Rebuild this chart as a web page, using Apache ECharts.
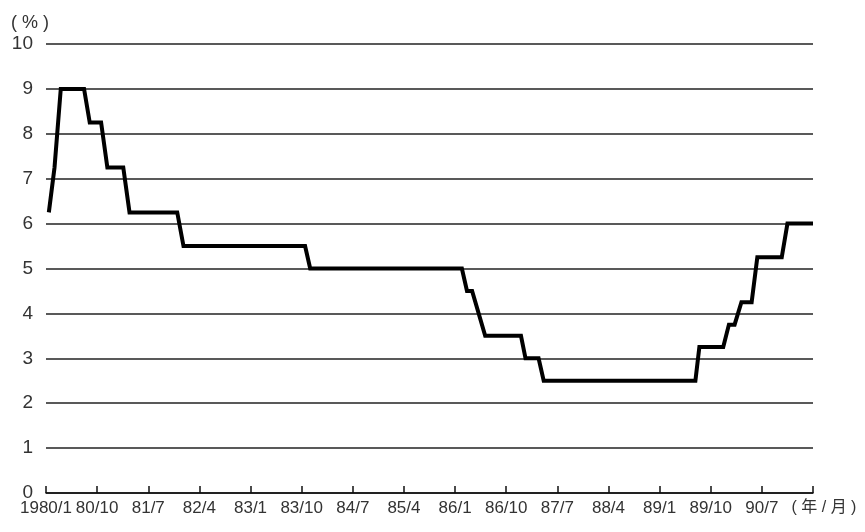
<!DOCTYPE html>
<html>
<head>
<meta charset="utf-8">
<script src="https://cdn.jsdelivr.net/npm/echarts@6/dist/echarts.min.js"></script>
<style>
html,body{margin:0;padding:0;background:#fff;}
#c{width:865px;height:532px;}
</style>
</head>
<body>
<div id="c"></div>
<script>
// months since 1980/1 at each corner of the line, and the rate (%) there
const months = [0.5, 1.5, 2.6, 6.7, 7.7, 9.7, 10.8, 13.6, 14.7, 23.1, 24.2, 45.6, 46.5,
  73.2, 74.1, 75.0, 77.3, 83.6, 84.4, 86.7, 87.6, 114.3, 115.0, 119.2, 120.2, 121.2,
  122.4, 124.2, 125.2, 129.5, 130.5, 135];
const rates = [6.25, 7.25, 9, 9, 8.25, 8.25, 7.25, 7.25, 6.25, 6.25, 5.5, 5.5, 5,
  5, 4.5, 4.5, 3.5, 3.5, 3, 3, 2.5, 2.5, 3.25, 3.25, 3.75, 3.75,
  4.25, 4.25, 5.25, 5.25, 6, 6];
const xTickLabels = ['1980/1','80/10','81/7','82/4','83/1','83/10','84/7','85/4',
  '86/1','86/10','87/7','88/4','89/1','89/10','90/7','( 年 / 月 )'];
const yTickLabels = ['0','1','2','3','4','5','6','7','8','9','10'];

const chart = echarts.init(document.getElementById('c'), null, {renderer:'canvas'});
const font = '"Liberation Sans", Arial, sans-serif';
const cjk = '"Liberation Sans", "Noto Sans CJK JP", sans-serif';
chart.setOption({
  animation: false,
  backgroundColor: '#fff',
  title: {
    text: '( % )', left: 6, top: 9,
    textStyle: {fontFamily: font, fontSize: 18, fontWeight: 'normal', color: '#333'}
  },
  grid: {left: 46, right: 52, top: 44, bottom: 39, containLabel: false},
  xAxis: {
    type: 'value', min: 0, max: 135, interval: 9,
    axisLine: {show: true, lineStyle: {color: '#111', width: 1.5}},
    axisTick: {show: true, inside: true, length: 7, lineStyle: {color: '#111', width: 1.5}},
    splitLine: {show: false},
    axisLabel: {
      margin: 7, color: '#333', fontFamily: font, fontSize: 17,
      showMinLabel: true, showMaxLabel: true,
      formatter: function (v) {
        const i = Math.round(v / 9);
        if (i === xTickLabels.length - 1) return '{e|' + xTickLabels[i] + '}';
        return xTickLabels[i];
      },
      rich: {e: {padding: [0, 0, 0, 22], fontFamily: cjk, fontSize: 16, color: '#333'}}
    }
  },
  yAxis: {
    type: 'value', min: 0, max: 10, interval: 1,
    axisLine: {show: false}, axisTick: {show: false},
    splitLine: {show: true, lineStyle: {color: '#222', width: 1.5}},
    axisLabel: {
      margin: 13, color: '#333', fontFamily: font, fontSize: 19,
      formatter: function (v) { return yTickLabels[Math.round(v)]; }
    }
  },
  series: [{
    type: 'line',
    data: months.map((m, i) => [m, rates[i]]),
    showSymbol: false, symbol: 'none',
    lineStyle: {color: '#000', width: 4, join: 'miter', cap: 'butt'},
    z: 5
  }]
});
</script>
</body>
</html>
